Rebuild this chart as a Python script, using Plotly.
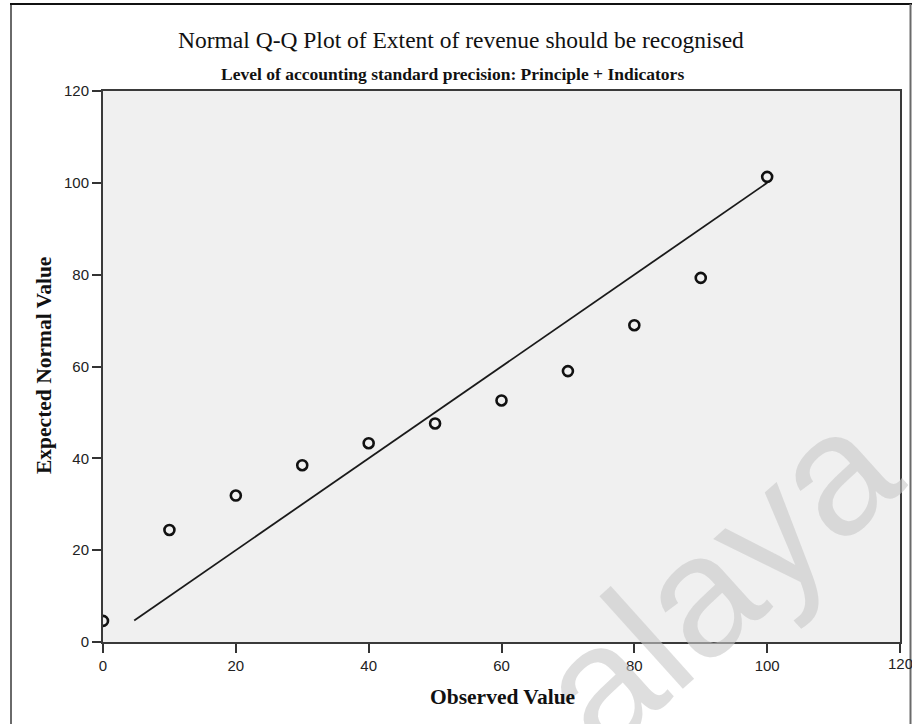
import plotly.graph_objects as go

# Normal Q-Q data: observed value vs expected normal value
observed = [0, 10, 20, 30, 40, 50, 60, 70, 80, 90, 100]
expected = [4.6, 24.4, 31.9, 38.5, 43.3, 47.6, 52.6, 59.0, 69.0, 79.3, 101.3]

# Reference line y = x over the data range
line_x = [4.7, 100.0]
line_y = [4.7, 100.0]

axis_ticks = [0, 20, 40, 60, 80, 100, 120]

title_text = "Normal Q-Q Plot of Extent of revenue should be recognised"
subtitle_text = "Level of accounting standard precision: Principle + Indicators"
x_title = "Observed Value"
y_title = "Expected Normal Value"
watermark_text = "alaya"

W, H = 912, 724
L, R, T, B = 103, 12, 91, 82
PW, PH = W - L - R, H - T - B

tick_font = dict(family="Liberation Sans", size=15, color="#222222")


def px(x):
    return (x - L) / PW


def py(y):
    return (H - B - y) / PH


fig = go.Figure()

fig.add_trace(go.Scatter(
    x=line_x, y=line_y, mode="lines",
    line=dict(color="#1a1a1a", width=1.8),
    hoverinfo="skip", showlegend=False,
))

fig.add_trace(go.Scatter(
    x=observed, y=expected, mode="markers",
    marker=dict(symbol="circle-open", size=10, color="#111111",
                line=dict(width=2.6, color="#111111")),
    showlegend=False,
))

axis_common = dict(
    range=[0, 120], tickvals=axis_ticks, ticktext=[str(v) for v in axis_ticks],
    showgrid=False, zeroline=False, showline=True, linecolor="#3a3a3a",
    linewidth=2, mirror=True, ticks="outside", ticklen=9, tickwidth=2,
    tickcolor="#333333", automargin=False, tickfont=tick_font,
    fixedrange=True,
)

# the last x tick label sits on the page edge and is drawn as an annotation
last_x_tick = axis_ticks[-1]

fig.update_layout(
    width=W, height=H,
    margin=dict(l=L, r=R, t=T, b=B, autoexpand=False),
    paper_bgcolor="white", plot_bgcolor="#f0f0f0",
    xaxis=dict(axis_common),
    yaxis=dict(axis_common),
    shapes=[
        # page frame
        dict(type="line", xref="paper", yref="paper",
             x0=px(11), x1=px(11), y0=py(4), y1=py(H + 2),
             line=dict(color="#6a6a6a", width=2)),
        dict(type="line", xref="paper", yref="paper",
             x0=px(10), x1=px(912), y0=py(4), y1=py(4),
             line=dict(color="#111111", width=2)),
        dict(type="line", xref="paper", yref="paper",
             x0=px(910.5), x1=px(910.5), y0=py(4), y1=py(H + 2),
             line=dict(color="#6a6a6a", width=2)),
    ],
    annotations=[
        dict(text=watermark_text, xref="paper", yref="paper",
             x=px(716), y=py(578), xanchor="center", yanchor="middle",
             showarrow=False, textangle=-42,
             font=dict(family="Liberation Sans", size=172,
                       color="rgba(200,200,200,0.6)")),
        dict(text=str(last_x_tick), xref="x", yref="paper",
             x=last_x_tick, y=py(663), xanchor="center", yanchor="middle",
             showarrow=False, font=tick_font),
        dict(text=title_text, xref="paper", yref="paper",
             x=px(461), y=py(40), xanchor="center", yanchor="middle",
             showarrow=False,
             font=dict(family="Liberation Serif", size=23.5, color="#111111")),
        dict(text="<b>" + subtitle_text + "</b>", xref="paper", yref="paper",
             x=px(452), y=py(74), xanchor="center", yanchor="middle",
             showarrow=False,
             font=dict(family="Liberation Serif", size=17.5, color="#111111")),
        dict(text="<b>" + x_title + "</b>", xref="paper", yref="paper",
             x=px(502), y=py(697), xanchor="center", yanchor="middle",
             showarrow=False,
             font=dict(family="Liberation Serif", size=21.5, color="#111111")),
        dict(text="<b>" + y_title + "</b>", xref="paper", yref="paper",
             x=px(44), y=py(366), xanchor="center", yanchor="middle",
             showarrow=False, textangle=-90,
             font=dict(family="Liberation Serif", size=21.5, color="#111111")),
    ],
)

fig.write_html("out.html", config={"displayModeBar": False})
